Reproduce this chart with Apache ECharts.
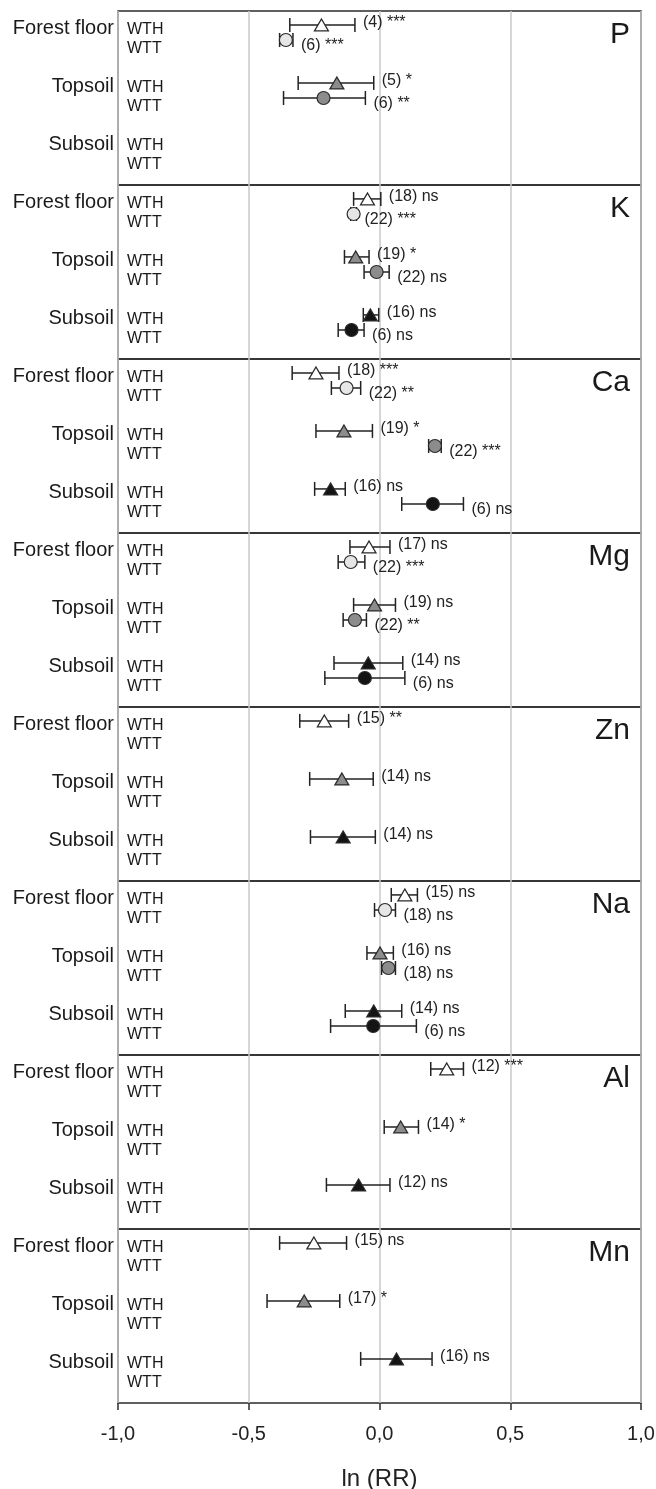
<!DOCTYPE html>
<html>
<head>
<meta charset="utf-8">
<script src="https://cdn.jsdelivr.net/npm/echarts@6/dist/echarts.min.js"></script>
<style>
  html, body { margin: 0; padding: 0; background: #fff; }
  #chart { width: 656px; height: 1489px; }
</style>
</head>
<body>
<div id="chart"></div>
<script>
// ---------------- DATA ----------------
const elements = ['P', 'K', 'Ca', 'Mg', 'Zn', 'Na', 'Al', 'Mn'];
const layers = ['Forest floor', 'Topsoil', 'Subsoil'];
const treatments = ['WTH', 'WTT'];
const xTicks = [-1, -0.5, 0, 0.5, 1];
const xTitle = 'ln (RR)';

// WTH: per element [Forest floor, Topsoil, Subsoil]
const wthMean = [
  [-0.222, -0.163, null],
  [-0.046, -0.091, -0.035],
  [-0.243, -0.136, -0.187],
  [-0.040, -0.019, -0.043],
  [-0.211, -0.144, -0.139],
  [0.097, 0.002, -0.022],
  [0.257, 0.081, -0.080],
  [-0.251, -0.288, 0.065]
];
const wthLow = [
  [-0.343, -0.311, null],
  [-0.099, -0.134, -0.062],
  [-0.334, -0.243, -0.248],
  [-0.113, -0.099, -0.174],
  [-0.305, -0.267, -0.264],
  [0.045, -0.048, -0.131],
  [0.196, 0.018, -0.203],
  [-0.382, -0.430, -0.072]
];
const wthHigh = [
  [-0.094, -0.022, null],
  [0.005, -0.040, -0.003],
  [-0.155, -0.027, -0.131],
  [0.040, 0.061, 0.089],
  [-0.118, -0.024, -0.016],
  [0.145, 0.053, 0.085],
  [0.321, 0.149, 0.040],
  [-0.126, -0.152, 0.201]
];
const wthN = [
  [4, 5, null], [18, 19, 16], [18, 19, 16], [17, 19, 14],
  [15, 14, 14], [15, 16, 14], [12, 14, 12], [15, 17, 16]
];
const wthSig = [
  ['***', '*', null], ['ns', '*', 'ns'], ['***', '*', 'ns'], ['ns', 'ns', 'ns'],
  ['**', 'ns', 'ns'], ['ns', 'ns', 'ns'], ['***', '*', 'ns'], ['ns', '*', 'ns']
];

// WTT
const wttMean = [
  [-0.358, -0.214, null],
  [-0.099, -0.011, -0.107],
  [-0.126, 0.212, 0.204],
  [-0.110, -0.094, -0.056],
  [null, null, null],
  [0.021, 0.034, -0.024],
  [null, null, null],
  [null, null, null]
];
const wttLow = [
  [-0.382, -0.367, null],
  [-0.110, -0.059, -0.158],
  [-0.184, 0.188, 0.085],
  [-0.158, -0.139, -0.209],
  [null, null, null],
  [-0.019, 0.008, -0.187],
  [null, null, null],
  [null, null, null]
];
const wttHigh = [
  [-0.331, -0.054, null],
  [-0.088, 0.037, -0.059],
  [-0.072, 0.236, 0.321],
  [-0.056, -0.050, 0.097],
  [null, null, null],
  [0.061, 0.061, 0.141],
  [null, null, null],
  [null, null, null]
];
const wttN = [
  [6, 6, null], [22, 22, 6], [22, 22, 6], [22, 22, 6],
  [null, null, null], [18, 18, 6], [null, null, null], [null, null, null]
];
const wttSig = [
  ['***', '**', null], ['***', 'ns', 'ns'], ['**', '***', 'ns'], ['***', '**', 'ns'],
  [null, null, null], ['ns', 'ns', 'ns'], [null, null, null], [null, null, null]
];

// ---------------- LAYOUT / STYLE ----------------
const FONT = "'Liberation Sans', Arial, Helvetica, sans-serif";
const PANEL_TOP = 11, PANEL_H = 174, GRID_LEFT = 118, GRID_RIGHT = 15;
const ROW_OFFSET = [0.48, 1.0];       // marker row within a layer group (WTH, WTT)
const TREAT_LABEL_OFFSET = [0.64, 1.30];
const GROUP_LABEL_OFFSET = 0.6;
const NOTE_DY = [-2, 6];              // annotation vertical nudge (px) for WTH / WTT
const NOTE_DX = 8;
const triFill = ['#ffffff', '#8c8c8c', '#141414'];
const circFill = ['#e6e6e6', '#8c8c8c', '#141414'];
const EDGE = '#2a2a2a';

const means = [wthMean, wttMean], lows = [wthLow, wttLow], highs = [wthHigh, wttHigh];
const ns = [wthN, wttN], sigs = [wthSig, wttSig];

function rowPos(layer, treat) { return 2 * layer + ROW_OFFSET[treat]; }
function fmtTick(v) { return v.toFixed(1).replace('.', ','); }

const chart = echarts.init(document.getElementById('chart'), null, { renderer: 'canvas' });

const grid = [], xAxis = [], yAxis = [], series = [];
elements.forEach((el, i) => {
  const last = i === elements.length - 1;
  grid.push({
    left: GRID_LEFT, right: GRID_RIGHT, top: PANEL_TOP + i * PANEL_H, height: PANEL_H,
    outerBoundsMode: 'none', containLabel: false,
    show: true, borderColor: '#2b2b2b', borderWidth: 1.5, backgroundColor: 'transparent'
  });
  xAxis.push({
    gridIndex: i, type: 'value', position: 'bottom',
    min: xTicks[0], max: xTicks[xTicks.length - 1], interval: 0.5,
    axisLine: { show: false, onZero: false },
    axisTick: { show: last, length: 7, inside: false, lineStyle: { color: '#2b2b2b', width: 1.5 } },
    axisLabel: { show: last, formatter: fmtTick, fontSize: 20, fontFamily: FONT, color: '#222', margin: 21 },
    splitLine: { show: true, lineStyle: { color: '#c8c8c8', width: 1.5 } },
    name: last ? xTitle : '', nameLocation: 'middle', nameGap: 64,
    nameTextStyle: { fontSize: 24, fontFamily: FONT, color: '#222' }
  });
  yAxis.push({ gridIndex: i, type: 'value', min: 0, max: 6, inverse: true, show: false });

  // error bars + annotation
  const ebData = [];
  for (let t = 0; t < 2; t++) {
    for (let l = 0; l < 3; l++) {
      if (means[t][i][l] == null) continue;
      ebData.push([lows[t][i][l], highs[t][i][l], rowPos(l, t), ns[t][i][l], sigs[t][i][l], t]);
    }
  }
  series.push({
    type: 'custom', xAxisIndex: i, yAxisIndex: i, clip: false, z: 2, silent: true,
    encode: { x: [0, 1], y: 2 },
    data: ebData,
    renderItem: function (params, api) {
      const y = api.value(2);
      const p1 = api.coord([api.value(0), y]);
      const p2 = api.coord([api.value(1), y]);
      const cap = 7;
      const t = api.value(5);
      const txt = '(' + api.value(3) + ') ' + api.value(4);
      const st = { stroke: '#222', lineWidth: 1.5 };
      return {
        type: 'group', children: [
          { type: 'line', shape: { x1: p1[0], y1: p1[1], x2: p2[0], y2: p2[1] }, style: st },
          { type: 'line', shape: { x1: p1[0], y1: p1[1] - cap, x2: p1[0], y2: p1[1] + cap }, style: st },
          { type: 'line', shape: { x1: p2[0], y1: p2[1] - cap, x2: p2[0], y2: p2[1] + cap }, style: st },
          { type: 'text', style: { text: txt, x: p2[0] + NOTE_DX, y: p2[1] + NOTE_DY[t], fill: '#222',
              fontSize: 16, fontFamily: FONT, align: 'left', verticalAlign: 'middle' } }
        ]
      };
    }
  });

  // markers
  for (let t = 0; t < 2; t++) {
    const d = [];
    for (let l = 0; l < 3; l++) {
      if (means[t][i][l] == null) continue;
      d.push({ value: [means[t][i][l], rowPos(l, t)],
        itemStyle: { color: t === 0 ? triFill[l] : circFill[l], borderColor: EDGE, borderWidth: 1.2, opacity: 1 } });
    }
    series.push({
      type: 'scatter', xAxisIndex: i, yAxisIndex: i, z: 4,
      symbol: t === 0 ? 'triangle' : 'circle',
      symbolSize: t === 0 ? [14, 12] : 13,
      itemStyle: { opacity: 1 },
      data: d, silent: true
    });
  }

  // text labels: layer names, WTH/WTT, panel element
  const txtData = layers.map((_, l) => [l]);
  series.push({
    type: 'custom', xAxisIndex: i, yAxisIndex: i, clip: false, z: 3, silent: true,
    data: txtData,
    renderItem: function (params, api) {
      const l = api.value(0);
      const g = api.coord([xTicks[0], 2 * l + GROUP_LABEL_OFFSET]);
      const a = api.coord([xTicks[0], 2 * l + TREAT_LABEL_OFFSET[0]]);
      const b = api.coord([xTicks[0], 2 * l + TREAT_LABEL_OFFSET[1]]);
      const children = [
        { type: 'text', style: { text: layers[l], x: g[0] - 4, y: g[1], fill: '#1a1a1a', fontSize: 20,
            fontFamily: FONT, align: 'right', verticalAlign: 'middle' } },
        { type: 'text', style: { text: treatments[0], x: a[0] + 9, y: a[1], fill: '#1a1a1a', fontSize: 16,
            fontFamily: FONT, align: 'left', verticalAlign: 'middle' } },
        { type: 'text', style: { text: treatments[1], x: b[0] + 9, y: b[1], fill: '#1a1a1a', fontSize: 16,
            fontFamily: FONT, align: 'left', verticalAlign: 'middle' } }
      ];
      if (l === 0) {
        const r = api.coord([xTicks[xTicks.length - 1], 0.83]);
        children.push({ type: 'text', style: { text: elements[i], x: r[0] - 11, y: r[1], fill: '#1a1a1a',
          fontSize: 30, fontFamily: FONT, align: 'right', verticalAlign: 'middle' } });
      }
      return { type: 'group', children: children };
    }
  });
});

chart.setOption({
  animation: false,
  backgroundColor: '#ffffff',
  grid: grid, xAxis: xAxis, yAxis: yAxis, series: series
});
</script>
</body>
</html>
